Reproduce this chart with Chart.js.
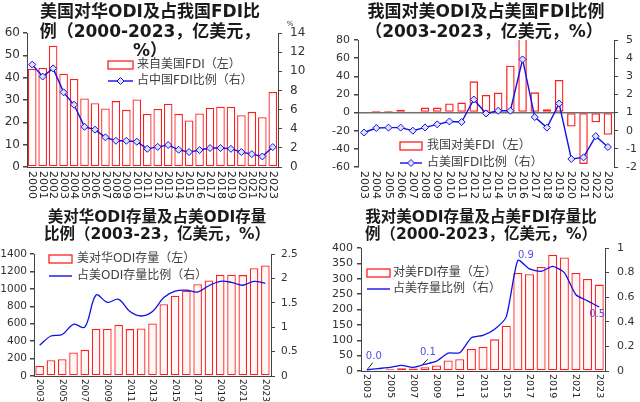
<!DOCTYPE html>
<html>
<head>
<meta charset="utf-8">
<script src="https://cdn.jsdelivr.net/npm/chart.js@4/dist/chart.umd.min.js"></script>
<style>
  html, body { margin: 0; padding: 0; background: #fff; }
  #wrap { position: relative; width: 640px; height: 402px; }
  canvas { position: absolute; }
</style>
</head>
<body>
<div id="wrap">
  <canvas id="c1" width="320" height="200" style="left:0;top:0"></canvas>
  <canvas id="c2" width="320" height="200" style="left:320px;top:0"></canvas>
  <canvas id="c3" width="320" height="202" style="left:0;top:200px"></canvas>
  <canvas id="c4" width="320" height="202" style="left:320px;top:200px"></canvas>
</div>
<script>
// ---- data ----
const years00 = ['2000','2001','2002','2003','2004','2005','2006','2007','2008','2009','2010','2011',
  '2012','2013','2014','2015','2016','2017','2018','2019','2020','2021','2022','2023'];
const years03 = years00.slice(3);

// 美国对华ODI（亿美元）及占我国FDI比例（%）
const usFdiToChina = [43.9, 44.3, 54.3, 41.8, 39.4, 30.7, 28.6, 26.2, 29.5, 25.6, 30.2, 23.7,
  26.0, 28.3, 23.8, 20.8, 24.0, 26.5, 27.0, 27.0, 23.2, 24.7, 22.3, 33.6];
const usFdiShare = [10.7, 9.45, 10.3, 7.8, 6.5, 4.2, 3.9, 3.1, 2.74, 2.74, 2.64, 1.9,
  2.1, 2.3, 1.8, 1.56, 1.77, 1.98, 1.98, 1.9, 1.56, 1.35, 1.1, 2.08];

// 我国对美ODI（亿美元）及占美国FDI比例（%）
const chinaOdiToUs = [-1, 1.8, 1.8, 3, 0.7, 5.5, 5.5, 10, 11, 34.4, 19.4, 22, 51.6, 88, 22.3, 3.7, 35.9, -15.4, -56.8, -10.6, -24.5];
const chinaOdiShare = [-0.1, 0.15, 0.17, 0.17, 0.0, 0.18, 0.35, 0.51, 0.48, 1.72, 0.95, 1.1, 1.1, 3.93, 0.75, 0.17, 1.5, -1.56, -1.47, -0.3, -0.9];

// 美对华ODI存量（亿美元）及占美ODI存量比例（%）
const usOdiStock = [115, 181, 192, 269, 300, 542, 542, 588, 538, 546, 602, 823, 921, 979, 1054, 1096, 1162, 1162, 1158, 1236, 1269];
const usOdiStockShare = [0.63, 0.82, 0.85, 1.06, 1.0, 1.66, 1.51, 1.57, 1.32, 1.23, 1.32, 1.61, 1.74, 1.76, 1.72, 1.85, 1.94, 1.92, 1.86, 1.94, 1.9];

// 我对美ODI存量（亿美元）及占美FDI存量比例（%）
const chinaOdiStock = [2, 4, 6, 9, 8, 12, 18, 34, 38, 72, 79, 103, 147, 319, 315, 338, 378, 369, 319, 299, 281];
const chinaOdiStockShare = [0.01, 0.02, 0.03, 0.045, 0.03, 0.055, 0.08, 0.145, 0.148, 0.27, 0.29, 0.34, 0.44, 0.9, 0.83, 0.81, 0.85, 0.8, 0.62, 0.57, 0.52];

const FONT = '"DejaVu Sans", "Noto Sans CJK SC", sans-serif';
const RED = '#ff1f1f';
const BLUE = '#1010e8';

const plain = v => String(Math.round(v * 100) / 100);

// titles, legends, vertical year labels, data labels
const decor = {
  id: 'decor',
  afterDraw(chart, args, o) {
    const ctx = chart.ctx;
    const area = chart.chartArea;
    ctx.save();

    // title
    ctx.fillStyle = '#1a1a1a';
    ctx.textAlign = 'center';
    ctx.textBaseline = 'middle';
    ctx.font = `bold ${o.titleSize}px ${FONT}`;
    o.title.forEach(([t, x, y]) => ctx.fillText(t, x, y));

    // year labels, turned clockwise
    const xs = chart.scales.x;
    ctx.font = `${o.xFont}px ${FONT}`;
    ctx.fillStyle = '#222';
    ctx.textAlign = 'left';
    chart.data.labels.forEach((lab, i) => {
      if (i % o.xEvery) return;
      ctx.save();
      ctx.translate(xs.getPixelForValue(i), area.bottom + o.xGap);
      ctx.rotate(Math.PI / 2);
      ctx.fillText(lab, 0, 0);
      ctx.restore();
    });

    // legend
    const lg = o.legend;
    ctx.font = `${lg.font}px ${FONT}`;
    ctx.fillStyle = '#404040';
    ctx.textBaseline = 'middle';
    ctx.fillText(chart.data.datasets[1].label, lg.tx, lg.y1);
    ctx.fillText(chart.data.datasets[0].label, lg.tx, lg.y2);
    ctx.fillStyle = '#fff';
    ctx.strokeStyle = RED;
    ctx.lineWidth = 1.3;
    ctx.fillRect(lg.x, lg.y1 - 4, lg.w, 8);
    ctx.strokeRect(lg.x, lg.y1 - 4, lg.w, 8);
    ctx.strokeStyle = BLUE;
    ctx.lineWidth = 1.4;
    ctx.beginPath();
    ctx.moveTo(lg.x, lg.y2);
    ctx.lineTo(lg.x + lg.w, lg.y2);
    ctx.stroke();
    if (lg.marker) {
      const cx = lg.x + lg.w / 2, r = 3.5;
      ctx.fillStyle = '#dde2ff';
      ctx.lineWidth = 1;
      ctx.beginPath();
      ctx.moveTo(cx, lg.y2 - r); ctx.lineTo(cx + r, lg.y2); ctx.lineTo(cx, lg.y2 + r); ctx.lineTo(cx - r, lg.y2);
      ctx.closePath();
      ctx.fill(); ctx.stroke();
    }

    // small extra texts
    (o.notes || []).forEach(n => {
      ctx.font = `${n.size}px ${FONT}`;
      ctx.fillStyle = n.color || '#333';
      ctx.textAlign = 'center';
      ctx.fillText(n.t, n.x, n.y);
    });

    // point labels on the ratio line
    if (o.pointLabels) {
      const meta = chart.getDatasetMeta(0);
      const data = chart.data.datasets[0].data;
      ctx.font = `${o.pointLabels.size}px ${FONT}`;
      o.pointLabels.items.forEach(p => {
        const el = meta.data[p.i];
        ctx.fillStyle = '#5050e6';
        ctx.textAlign = 'center';
        ctx.fillText(data[p.i].toFixed(1), el.x + p.dx, el.y + p.dy);
        if (p.lead) {
          ctx.strokeStyle = '#222';
          ctx.lineWidth = 1;
          ctx.beginPath();
          ctx.moveTo(el.x + p.lead[0], el.y + p.lead[1]);
          ctx.lineTo(el.x + p.lead[2], el.y + p.lead[3]);
          ctx.stroke();
        }
      });
    }
    ctx.restore();
  }
};

function build(id, o) {
  const canvas = document.getElementById(id);
  const W = canvas.width, H = canvas.height;
  const tickFont = { size: o.tickSize, family: FONT };
  new Chart(canvas, {
    type: 'bar',
    data: {
      labels: o.labels,
      datasets: [
        {
          type: 'line', label: o.lineLabel, data: o.line, yAxisID: 'y2', order: 0,
          borderColor: BLUE, borderWidth: o.lineWidth, tension: o.tension,
          pointStyle: 'rectRot', pointRadius: o.pointRadius,
          pointBackgroundColor: '#dde2ff', pointBorderColor: BLUE, pointBorderWidth: 1
        },
        {
          type: 'bar', label: o.barLabel, data: o.bars, yAxisID: 'y', order: 1,
          backgroundColor: o.barFill, borderColor: RED, borderWidth: 1.3, borderSkipped: false,
          barPercentage: o.barPct, categoryPercentage: 1
        }
      ]
    },
    options: {
      responsive: false,
      animation: false,
      devicePixelRatio: 1,
      layout: { padding: { top: o.area.T, left: 0, right: 0, bottom: 0 } },
      plugins: {
        legend: { display: false },
        tooltip: { enabled: false },
        decor: o.decor
      },
      scales: {
        x: {
          grid: { display: false },
          ticks: { display: false },
          border: { display: o.xBorder, color: '#444' },
          afterFit: s => { s.height = H - o.area.B; }
        },
        y: {
          position: 'left', min: o.yMin, max: o.yMax,
          ticks: { stepSize: o.yStep, autoSkip: false, font: tickFont, color: '#333', padding: o.lPad, callback: plain },
          grid: {
            drawOnChartArea: !!o.zeroLine,
            color: c => (o.zeroLine && c.tick && c.tick.value === 0) ? '#707070' : 'rgba(0,0,0,0)',
            lineWidth: 1.5,
            tickColor: '#444', tickLength: 4
          },
          border: { color: '#444' },
          afterFit: s => { s.width = o.area.L; }
        },
        y2: {
          position: 'right', min: o.y2Min, max: o.y2Max,
          ticks: { stepSize: o.y2Step, autoSkip: false, font: tickFont, color: '#333', padding: o.rPad, callback: plain },
          grid: { drawOnChartArea: false, color: '#444', tickLength: 4 },
          border: { color: '#444' },
          afterFit: s => { s.width = W - o.area.R; }
        }
      }
    },
    plugins: [decor]
  });
}

build('c1', {
  labels: years00, bars: usFdiToChina, line: usFdiShare,
  barLabel: '来自美国FDI（左）', lineLabel: '占中国FDI比例（右）',
  area: { L: 27, R: 278, T: 33, B: 167 },
  yMin: 0, yMax: 60, yStep: 10, y2Min: 0, y2Max: 14, y2Step: 2,
  tickSize: 12, lPad: 3, rPad: 8, xBorder: true,
  barFill: '#ffffff', barPct: 0.82, lineWidth: 1.4, tension: 0, pointRadius: 3.5,
  decor: {
    titleSize: 17,
    title: [['美国对华ODI及占我国FDI比', 150, 13], ['例（2000-2023，亿美元，', 150, 33], ['%）', 150, 52]],
    xFont: 11, xGap: 4, xEvery: 1,
    legend: { x: 108, w: 25, y1: 65, y2: 81, tx: 137, font: 12, marker: true },
    notes: [{ t: '%', x: 290, y: 24, size: 7 }]
  }
});

build('c2', {
  labels: years03, bars: chinaOdiToUs, line: chinaOdiShare,
  barLabel: '我国对美FDI（左）', lineLabel: '占美国FDI比例（右）',
  area: { L: 38, R: 294, T: 40, B: 167 },
  yMin: -60, yMax: 80, yStep: 20, y2Min: -2, y2Max: 5, y2Step: 1,
  tickSize: 11, lPad: 4, rPad: 8, xBorder: false, zeroLine: true,
  barFill: 'rgba(255,255,255,0)', barPct: 0.7, lineWidth: 1.4, tension: 0, pointRadius: 3.5,
  decor: {
    titleSize: 17,
    title: [['我国对美ODI及占美国FDI比例', 166, 13], ['（2003-2023，亿美元，%）', 164, 33]],
    xFont: 11, xGap: 4, xEvery: 1,
    legend: { x: 80, w: 22, y1: 146, y2: 163, tx: 107, font: 12, marker: true }
  }
});

build('c3', {
  labels: years03, bars: usOdiStock, line: usOdiStockShare,
  barLabel: '美对华ODI存量（左）', lineLabel: '占美ODI存量比例（右）',
  area: { L: 34, R: 271, T: 54, B: 176 },
  yMin: 0, yMax: 1400, yStep: 200, y2Min: 0, y2Max: 2.5, y2Step: 0.5,
  tickSize: 10.5, lPad: 3, rPad: 6, xBorder: true,
  barFill: '#fff6f6', barPct: 0.76, lineWidth: 1.3, tension: 0.35, pointRadius: 0,
  decor: {
    titleSize: 15.5,
    title: [['美对华ODI存量及占美ODI存量', 157, 18], ['比例（2003-23，亿美元，%）', 157, 35]],
    xFont: 9, xGap: 3, xEvery: 2,
    legend: { x: 49, w: 23, y1: 59, y2: 76, tx: 77, font: 12, marker: false }
  }
});

build('c4', {
  labels: years03, bars: chinaOdiStock, line: chinaOdiStockShare,
  barLabel: '对美FDI存量（左）', lineLabel: '占美存量比例（右）',
  area: { L: 41, R: 285, T: 48, B: 171 },
  yMin: 0, yMax: 400, yStep: 50, y2Min: 0, y2Max: 1, y2Step: 0.2,
  tickSize: 11, lPad: 4, rPad: 8, xBorder: true,
  barFill: '#fff6f6', barPct: 0.78, lineWidth: 1.3, tension: 0.2, pointRadius: 0,
  decor: {
    titleSize: 15.5,
    title: [['我对美ODI存量及占美FDI存量比', 161, 18], ['例（2000-2023，亿美元，%）', 161, 35]],
    xFont: 9.5, xGap: 3, xEvery: 2,
    legend: { x: 47, w: 23, y1: 73, y2: 89, tx: 73, font: 12, marker: false },
    pointLabels: {
      size: 10,
      items: [
        { i: 0, dx: 7, dy: -13, lead: [1, -1, 6, -7] },
        { i: 5, dx: 3, dy: -12, lead: [-2, 0, 3, -5] },
        { i: 13, dx: 8, dy: -5 },
        { i: 20, dx: -2, dy: 7 }
      ]
    }
  }
});
</script>
</body>
</html>
